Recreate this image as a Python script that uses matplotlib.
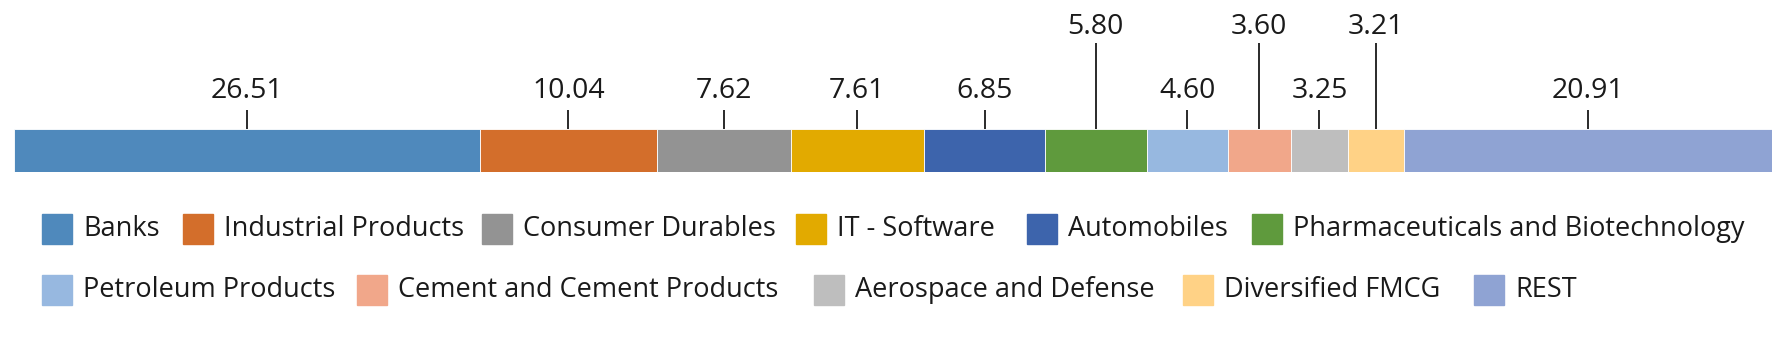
import matplotlib.pyplot as plt
from matplotlib.patches import Rectangle

plt.rcParams.update({
    "font.family": ["Open Sans", "DejaVu Sans"],
    "figure.dpi": 100,
})

sectors = ["Banks", "Industrial Products", "Consumer Durables", "IT - Software",
           "Automobiles", "Pharmaceuticals and Biotechnology", "Petroleum Products",
           "Cement and Cement Products", "Aerospace and Defense", "Diversified FMCG", "REST"]
weights = [26.51, 10.04, 7.62, 7.61, 6.85, 5.80, 4.60, 3.60, 3.25, 3.21, 20.91]
labels = ["26.51", "10.04", "7.62", "7.61", "6.85", "5.80", "4.60", "3.60", "3.25", "3.21", "20.91"]
raised = [False, False, False, False, False, True, False, True, False, True, False]
colors = ["#4F89BC", "#D36E2B", "#939393", "#E2AA00", "#3D64AC", "#5F9A3D",
          "#97B8E0", "#F1A78A", "#BEBEBE", "#FFD286", "#8FA3D3"]

W, H = 1790, 354
fig = plt.figure(figsize=(W / 100, H / 100))

# bar area: x 0..100 spans px 14..1772, bar occupies px rows 129..172
ax = fig.add_axes([14 / W, (H - 172) / H, (1772 - 14) / W, 172 / H])
ax.set_xlim(0, 100)
ax.set_ylim(0, 4)
ax.axis("off")

left = 0
for w, lab, hi, c in zip(weights, labels, raised, colors):
    ax.barh(0.5, w, height=1, left=left, color=c, edgecolor="white", linewidth=0.6)
    mid = left + w / 2
    top = 3.0 if hi else 1.44
    ax.plot([mid, mid], [1, top], color="#2a2a2a", linewidth=1.4, solid_capstyle="butt")
    ax.text(mid, top + 0.38 if hi else top + 0.45, lab, ha="center", va="center",
            fontsize=20.5, color="#1a1a1a")
    left += w

# legend, two rows laid out like the original
rows = [sectors[:6], sectors[6:]]
row_y = [229, 290]
row_x = [[42, 183, 482, 796, 1027, 1252], [42, 357, 814, 1183, 1474]]
k = 0
for names, y, xs in zip(rows, row_y, row_x):
    for name, x in zip(names, xs):
        fig.patches.append(Rectangle((x / W, (H - y - 15) / H), 30 / W, 30 / H,
                                     transform=fig.transFigure, color=colors[k]))
        fig.text((x + 41) / W, (H - y) / H, name, ha="left", va="center",
                 fontsize=19.5, color="#1a1a1a")
        k += 1

fig.savefig("out.png", dpi=100)
